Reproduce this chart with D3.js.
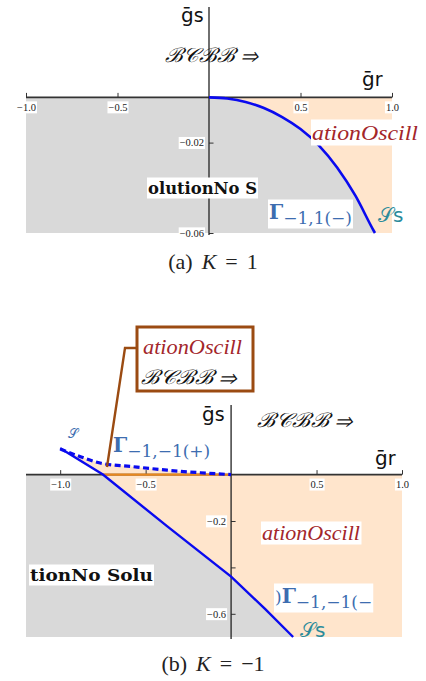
<!DOCTYPE html>
<html>
<head>
<meta charset="utf-8">
<script src="https://cdn.jsdelivr.net/npm/d3@7"></script>
<style>
  body { margin: 0; background: #fff; }
  svg { display: block; }
</style>
</head>
<body>
<div id="chart"></div>
<script>
// panel (a), K = 1 : boundary curve
const curveAX = [0, 0.1, 0.2, 0.3, 0.4, 0.5, 0.6, 0.7, 0.8, 0.9, 0.907];
const curveAY = [0, -0.0005, -0.002, -0.0047, -0.0087, -0.014, -0.0212, -0.031, -0.0435, -0.059, -0.06];

// panel (b), K = -1 : solid and dashed boundaries
const solidBX = [-1.0, -0.75, -0.375, 0, 0.2, 0.363];
const solidBY = [0.114, 0, -0.222, -0.44, -0.58, -0.7];
const dashBX = [-1.0, -0.9, -0.766, -0.573, -0.374, -0.18, 0];
const dashBY = [0.11, 0.082, 0.05, 0.034, 0.019, 0.008, 0];
const orangeBX = [-0.75, 0];

// ticks (the -0.04 and -0.4 labels sit under other labels in the original, so only ticks there)
const xMajorA = [-1, -0.5, 0.5, 1];
const xLabelsA = ["−1.0", "−0.5", "0.5", "1.0"];
const yMajorA = [-0.02, -0.04, -0.06];
const yLabelsA = ["−0.02", "", "−0.06"];
const xMajorB = [-1, -0.5, 0.5, 1];
const xLabelsB = ["−1.0", "−0.5", "0.5", "1.0"];
const yMajorB = [-0.2, -0.4, -0.6];
const yLabelsB = ["−0.2", "", "−0.6"];

const W = 426, H = 681;
const gray = "#d9d9d9", peach = "#ffe5cc", blue = "#0a0aef";
const darkRed = "#a3262a", labelBlue = "#3d6db0", teal = "#2b8b9b", brown = "#9b4b12";

const svg = d3.select("#chart").append("svg").attr("width", W).attr("height", H);

const xA = d3.scaleLinear([-1, 1], [26, 392]);
const yA = d3.scaleLinear([-0.06, 0.04], [233, 7]);
const xB = d3.scaleLinear([-1.2, 1], [26, 402]);
const yB = d3.scaleLinear([-0.7, 0.3], [637, 405]);

const zip = (xs, ys) => xs.map((x, i) => [x, ys[i]]);
const poly = (x, y) => d3.line().x(d => x(d[0])).y(d => y(d[1]));

function labelBox(g, node, pad) {
  const b = node.getBBox();
  if (!b.width) return;
  g.insert("rect", () => node)
    .attr("x", b.x - pad).attr("y", b.y - pad / 2)
    .attr("width", b.width + 2 * pad).attr("height", b.height + pad)
    .attr("fill", "#fff");
}

function axes(g, x, y, xMaj, xLab, yMaj, yLab, xStep, yStep) {
  const [x0, x1] = x.domain(), [y0, y1] = y.domain();
  const xMinor = d3.range(Math.ceil(x0 / xStep - 1e-6), Math.floor(x1 / xStep + 1e-6) + 1).map(k => k * xStep);
  const yMinor = d3.range(Math.ceil(y0 / yStep - 1e-6), Math.floor(y1 / yStep + 1e-6) + 1).map(k => k * yStep);

  const gx = g.append("g").attr("transform", `translate(0,${y(0)})`);
  gx.call(d3.axisBottom(x).tickValues(xMinor).tickSizeInner(-2.5).tickSizeOuter(0).tickFormat(""));
  gx.call(d3.axisBottom(x).tickValues(xMaj).tickSizeInner(-4.5).tickSizeOuter(0).tickPadding(6)
    .tickFormat((d, i) => xLab[i]));
  gx.selectAll(".domain").remove();
  gx.selectAll("line").attr("stroke", "#333");
  gx.selectAll("text").attr("font-family", "Liberation Serif").attr("font-size", 10.5).attr("fill", "#222");
  gx.append("line").attr("x1", x(x0)).attr("x2", x(x1)).attr("stroke", "#333").attr("stroke-width", 1.6);

  const gy = g.append("g").attr("transform", `translate(${x(0)},0)`);
  gy.call(d3.axisLeft(y).tickValues(yMinor.filter(v => Math.abs(v) > 1e-9)).tickSizeInner(-2.5).tickSizeOuter(0).tickFormat(""));
  gy.call(d3.axisLeft(y).tickValues(yMaj).tickSizeInner(-4.5).tickSizeOuter(0).tickPadding(5)
    .tickFormat((d, i) => yLab[i]));
  gy.selectAll(".domain").remove();
  gy.selectAll("line").attr("stroke", "#333");
  gy.selectAll("text").attr("font-family", "Liberation Serif").attr("font-size", 10.5).attr("fill", "#222");
  gy.append("line").attr("y1", y(y0) + 2).attr("y2", y(y1)).attr("stroke", "#222").attr("stroke-width", 1.3);

  [gx, gy].forEach(a => a.selectAll(".tick text").each(function () { labelBox(d3.select(this.parentNode), this, 1); }));
}

function text(g, str, xpos, ypos, opts) {
  const t = g.append("text").attr("x", xpos).attr("y", ypos)
    .attr("font-family", opts.font || "Liberation Serif")
    .attr("font-size", opts.size || 18)
    .attr("font-style", opts.italic ? "italic" : null)
    .attr("font-weight", opts.bold ? "bold" : null)
    .attr("fill", opts.fill || "#111")
    .text(str);
  if (opts.len) t.attr("textLength", opts.len).attr("lengthAdjust", "spacingAndGlyphs");
  if (opts.bg) labelBox(g, t.node(), 1);
  return t;
}

function gbar(g, xpos, ypos, sub) {
  const t = g.append("text").attr("x", xpos).attr("y", ypos)
    .attr("font-family", "DejaVu Sans").attr("font-size", 20).attr("fill", "#111");
  t.append("tspan").text("ḡ");
  t.append("tspan").attr("font-size", 19).text(sub);
  return t;
}

function gamma(g, xpos, ypos, sub, fill, pre) {
  const t = g.append("text").attr("x", xpos).attr("y", ypos)
    .attr("font-family", "DejaVu Serif").attr("fill", fill);
  if (pre) t.append("tspan").attr("font-size", 17).text(pre);
  t.append("tspan").attr("font-size", 20).attr("font-weight", "bold").text("Γ");
  t.append("tspan").attr("font-size", 17).attr("dy", 5).text(sub);
  labelBox(g, t.node(), 1);
  return t;
}

function caption(g, letter, rhs, cy) {
  const t = g.append("text").attr("x", W / 2).attr("y", cy).attr("text-anchor", "middle")
    .attr("font-family", "Liberation Serif").attr("font-size", 22).attr("fill", "#222");
  t.append("tspan").text(`(${letter})`);
  t.append("tspan").attr("dx", 9).attr("font-style", "italic").text("K");
  t.append("tspan").attr("dx", 9).text("=");
  t.append("tspan").attr("dx", 9).text(rhs);
}

// ---------- panel (a) ----------
const gA = svg.append("g");
const curveA = zip(curveAX, curveAY);
const endA = curveA[curveA.length - 1];
gA.append("path")
  .attr("d", poly(xA, yA)([[-1, 0], ...curveA, [-1, endA[1]]]) + "Z")
  .attr("fill", gray);
gA.append("path")
  .attr("d", poly(xA, yA)([...curveA, [1, endA[1]], [1, 0]]) + "Z")
  .attr("fill", peach);
axes(gA, xA, yA, xMajorA, xLabelsA, yMajorA, yLabelsA, 0.1, 0.005);
gA.append("path").attr("d", poly(xA, yA).curve(d3.curveMonotoneX)(curveA))
  .attr("fill", "none").attr("stroke", blue).attr("stroke-width", 2.6);

gbar(gA, 181, 22, "s");
text(gA, "ℬ𝒞ℬℬ ⇒", 165, 62, { size: 20, italic: true, len: 93 });
gbar(gA, 362, 86, "r");
text(gA, "ationOscill", 312, 140, { size: 22, italic: true, fill: darkRed, len: 106, bg: true });
text(gA, "olutionNo S", 148, 194, { size: 17, bold: true, font: "DejaVu Serif", len: 109, bg: true });
gamma(gA, 269, 219, "−1,1(−)", labelBlue);
text(gA, "𝒮s", 378, 222, { size: 20, fill: teal, font: "DejaVu Sans" });
caption(gA, "a", "1", 269);

// ---------- panel (b) ----------
const gB = svg.append("g");
const solidB = zip(solidBX, solidBY);
const dashB = zip(dashBX, dashBY);
const [xb0, xb1] = xB.domain(), [yb0] = yB.domain();
const below = solidB.filter(d => d[1] <= 0);
gB.append("path")
  .attr("d", poly(xB, yB)([[xb0, 0], ...below, [xb0, yb0]]) + "Z")
  .attr("fill", gray);
gB.append("path")
  .attr("d", poly(xB, yB)([...dashB, [xb1, 0], [xb1, yb0], ...solidB.slice().reverse()]) + "Z")
  .attr("fill", peach);
axes(gB, xB, yB, xMajorB, xLabelsB, yMajorB, yLabelsB, 0.1, 0.2 / 3);
gB.append("path").attr("d", poly(xB, yB)(orangeBX.map(v => [v, 0])))
  .attr("stroke", "#e8871e").attr("stroke-width", 2.2);
gB.append("path").attr("d", poly(xB, yB)(solidB))
  .attr("fill", "none").attr("stroke", blue).attr("stroke-width", 2.4);
gB.append("path").attr("d", poly(xB, yB).curve(d3.curveMonotoneX)(dashB))
  .attr("fill", "none").attr("stroke", blue).attr("stroke-width", 3.2).attr("stroke-dasharray", "6,3.5");

gbar(gB, 202, 421, "s");
text(gB, "ℬ𝒞ℬℬ ⇒", 257, 427, { size: 20, italic: true, len: 95 });
gbar(gB, 375, 465, "r");
text(gB, "𝒮", 68, 438, { size: 13, fill: labelBlue, font: "DejaVu Sans", bg: true });
gamma(gB, 113, 452, "−1,−1(+)", labelBlue);
text(gB, "ationOscill", 262, 540, { size: 20, italic: true, fill: darkRed, len: 98, bg: true });
text(gB, "tionNo Solu", 30, 581, { size: 17, bold: true, font: "DejaVu Serif", len: 123, bg: true });
gamma(gB, 275, 603, "−1,−1(−", labelBlue, ")");
text(gB, "𝒮s", 300, 637, { size: 20, fill: teal, font: "DejaVu Sans" });

// callout
gB.append("polyline").attr("points", "137,348 125,348 107,467")
  .attr("fill", "none").attr("stroke", brown).attr("stroke-width", 2.4);
gB.append("rect").attr("x", 137).attr("y", 327).attr("width", 116).attr("height", 64)
  .attr("fill", "#fff").attr("stroke", brown).attr("stroke-width", 3);
text(gB, "ationOscill", 143, 354, { size: 20, italic: true, fill: darkRed, len: 99 });
text(gB, "ℬ𝒞ℬℬ ⇒", 141, 384, { size: 20, italic: true, len: 96 });
caption(gB, "b", "−1", 671);
</script>
</body>
</html>
